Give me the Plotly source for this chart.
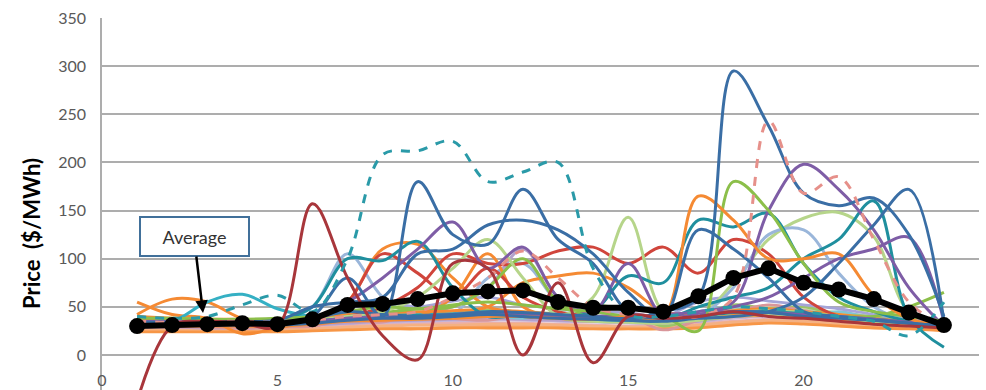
import plotly.graph_objects as go

# Hourly price traces ($/MWh) for hours 1-24
HOURS = list(range(1, 25))

average = [30, 31, 32, 33, 32, 37, 52, 53, 58, 64, 66, 67, 55, 49, 49, 45, 61, 80, 90, 75, 68, 58, 44, 31]

# background traces (the dense band near the bottom)
bg_a = [28, 28, 27, 27, 28, 30, 32, 33, 34, 35, 36, 36, 35, 34, 33, 32, 34, 38, 40, 38, 36, 33, 30, 28]
bg_b = [30, 30, 29, 29, 30, 32, 35, 36, 37, 38, 40, 40, 38, 37, 36, 35, 37, 42, 45, 42, 40, 36, 33, 30]
bg_c = [25, 25, 25, 24, 25, 26, 27, 28, 28, 29, 30, 30, 29, 28, 28, 28, 30, 33, 35, 34, 32, 30, 28, 26]
bg_d = [33, 33, 32, 32, 33, 35, 38, 40, 42, 42, 44, 43, 41, 40, 38, 37, 40, 45, 48, 45, 42, 38, 34, 31]
bg_e = [27, 27, 26, 26, 27, 28, 30, 31, 32, 33, 33, 33, 32, 31, 30, 30, 32, 35, 37, 36, 34, 32, 29, 27]
bg_f = [35, 34, 34, 34, 34, 37, 40, 42, 43, 44, 45, 45, 43, 41, 40, 38, 42, 48, 50, 47, 44, 40, 36, 32]
bg_g = [26, 26, 26, 25, 26, 27, 29, 30, 31, 31, 32, 32, 31, 30, 29, 29, 31, 34, 36, 35, 33, 31, 28, 26]
bg_h = [31, 31, 30, 30, 31, 33, 36, 38, 39, 40, 41, 41, 39, 38, 37, 36, 38, 43, 46, 44, 41, 37, 33, 30]
bg_i = [29, 29, 28, 28, 29, 31, 33, 35, 36, 37, 38, 37, 36, 35, 34, 33, 35, 40, 42, 40, 38, 35, 31, 29]
bg_j = [24, 24, 24, 24, 24, 25, 26, 27, 27, 28, 28, 28, 28, 27, 27, 27, 28, 31, 33, 32, 30, 28, 27, 25]
bg_k = [32, 32, 31, 31, 32, 34, 44, 40, 37, 45, 42, 38, 44, 40, 36, 34, 45, 50, 44, 40, 45, 38, 34, 31]
bg_l = [34, 33, 33, 33, 33, 36, 39, 46, 40, 38, 47, 44, 40, 52, 45, 30, 40, 52, 48, 50, 42, 40, 35, 32]
bg_m = [29, 29, 29, 28, 29, 30, 37, 34, 44, 38, 36, 42, 38, 35, 40, 26, 36, 44, 52, 46, 40, 36, 32, 29]
bg_n = [36, 35, 35, 35, 36, 38, 48, 55, 50, 56, 60, 52, 48, 45, 44, 40, 55, 60, 56, 52, 48, 42, 37, 33]

# individual traces with distinct peaks
dark_red = [-48, 30, 35, 33, 30, 157, 80, 20, -5, 95, 90, 0, 75, -8, 40, 38, 40, 45, 40, 38, 35, 32, 30, 28]
teal_dash = [40, 38, 40, 52, 62, 45, 100, 208, 212, 222, 180, 190, 200, 90, 42, 40, 45, 50, 48, 45, 40, 35, 20, 55]
blue_spike = [32, 33, 33, 34, 33, 38, 45, 42, 40, 42, 45, 44, 42, 40, 38, 45, 60, 295, 238, 168, 155, 163, 125, 40]
blue_late = [31, 31, 31, 31, 31, 33, 36, 38, 38, 40, 42, 40, 38, 37, 36, 35, 38, 40, 45, 60, 95, 135, 172, 35]
blue_c = [33, 33, 33, 34, 34, 40, 80, 40, 180, 125, 115, 172, 120, 95, 45, 38, 40, 45, 44, 40, 38, 36, 33, 30]
blue_d = [34, 34, 34, 35, 36, 50, 55, 60, 105, 110, 135, 140, 130, 105, 65, 40, 130, 110, 80, 45, 40, 36, 33, 30]
purple_e = [35, 35, 35, 35, 35, 38, 55, 80, 110, 138, 90, 112, 60, 45, 95, 40, 42, 45, 44, 42, 40, 37, 34, 31]
purple_f = [33, 33, 33, 33, 33, 35, 38, 40, 40, 42, 44, 43, 41, 40, 40, 42, 45, 55, 150, 198, 172, 130, 70, 30]
purple_g = [32, 32, 32, 32, 32, 34, 37, 39, 40, 41, 42, 42, 40, 39, 38, 38, 42, 50, 60, 80, 100, 110, 122, 35]
salmon_dash = [35, 34, 35, 35, 34, 36, 40, 42, 45, 60, 80, 108, 80, 50, 42, 40, 40, 60, 243, 168, 185, 120, 55, 30]
green_i = [38, 38, 37, 37, 38, 40, 45, 50, 48, 52, 55, 52, 48, 45, 40, 40, 25, 180, 150, 95, 55, 45, 40, 35]
green_b = [34, 34, 34, 34, 34, 36, 40, 44, 48, 50, 70, 100, 55, 40, 38, 36, 40, 44, 45, 42, 40, 40, 50, 65]
light_green_a = [32, 33, 33, 34, 35, 36, 40, 45, 60, 90, 120, 80, 40, 35, 34, 33, 36, 40, 42, 40, 38, 35, 32, 30]
light_green_j = [33, 33, 33, 33, 33, 35, 38, 40, 40, 42, 44, 42, 40, 60, 143, 45, 40, 44, 46, 44, 40, 36, 33, 30]
light_green_k = [32, 32, 32, 32, 32, 34, 37, 39, 40, 41, 42, 42, 40, 39, 38, 38, 40, 75, 120, 142, 148, 123, 45, 35]
orange_l = [30, 30, 30, 30, 30, 32, 35, 36, 37, 38, 40, 40, 38, 37, 40, 40, 165, 140, 100, 100, 105, 62, 38, 30]
orange_a = [40, 38, 36, 35, 35, 35, 55, 110, 115, 80, 50, 45, 42, 40, 38, 36, 40, 44, 45, 42, 40, 37, 33, 30]
orange_b = [36, 36, 36, 36, 36, 37, 40, 42, 40, 60, 105, 50, 40, 38, 37, 36, 38, 42, 44, 42, 40, 36, 33, 30]
orange_c = [37, 37, 37, 37, 37, 38, 42, 44, 45, 46, 50, 75, 82, 85, 70, 45, 42, 46, 48, 45, 42, 38, 34, 31]
orange_e1 = [42, 58, 55, 38, 35, 36, 38, 40, 40, 41, 42, 41, 40, 38, 37, 36, 38, 42, 43, 41, 38, 35, 32, 29]
orange_e2 = [55, 42, 38, 22, 28, 35, 37, 38, 38, 40, 40, 40, 38, 37, 36, 35, 37, 40, 41, 39, 37, 34, 31, 28]
red_a = [35, 35, 35, 35, 35, 36, 40, 50, 70, 105, 95, 95, 108, 112, 95, 112, 85, 120, 105, 60, 40, 35, 32, 30]
red_b = [34, 34, 34, 34, 34, 35, 55, 105, 85, 60, 90, 60, 45, 40, 38, 36, 40, 45, 44, 42, 40, 36, 33, 30]
teal_t1 = [33, 33, 33, 33, 33, 35, 38, 40, 41, 42, 43, 42, 40, 45, 82, 75, 140, 133, 147, 95, 60, 45, 35, 30]
teal_t2 = [32, 32, 32, 32, 32, 34, 36, 38, 38, 40, 41, 40, 38, 37, 36, 36, 50, 60, 70, 100, 120, 160, 40, 8]
teal_a = [34, 34, 34, 35, 36, 50, 100, 98, 118, 70, 40, 42, 40, 38, 37, 36, 40, 44, 45, 43, 40, 37, 34, 31]
aqua = [35, 35, 55, 63, 48, 40, 40, 42, 42, 44, 45, 44, 42, 40, 38, 37, 40, 44, 45, 43, 40, 37, 34, 31]
light_blue_early = [33, 33, 34, 35, 36, 50, 105, 60, 40, 42, 80, 95, 55, 40, 38, 36, 40, 44, 45, 42, 40, 36, 33, 30]
light_blue_late = [32, 32, 32, 32, 32, 34, 36, 38, 38, 40, 41, 40, 38, 37, 36, 36, 40, 70, 125, 130, 85, 50, 35, 30]
lavender = [34, 34, 34, 34, 34, 36, 40, 42, 44, 50, 70, 110, 60, 45, 40, 38, 42, 46, 47, 44, 41, 37, 33, 30]

COLORS = {
    "steel": "#3A6EA5", "darkred": "#A8363B", "red": "#D0453C", "green": "#8CBF4A",
    "lgreen": "#B6D58A", "purple": "#7E5DA6", "lavender": "#B3A2CC", "teal": "#1F8F9E",
    "aqua": "#35B0C4", "orange": "#F58A33", "lorange": "#F9B07A", "lblue": "#9AB6DA",
    "salmon": "#E6908A", "pink": "#DDA0A8",
}

background = [
    (bg_a, "#C6B6D9"), (bg_b, "#A9CFE0"), (bg_c, "#F6A86E"), (bg_d, "#B9CCE5"),
    (bg_e, "#E9B0AE"), (bg_f, "#C4DAA2"), (bg_g, "#F4B183"), (bg_h, "#8FB4D9"),
    (bg_i, "#B4A0CC"), (bg_j, "#F79646"), (bg_k, "#7FC6D4"), (bg_l, "#9DC46A"),
    (bg_m, "#D9969A"), (bg_n, "#A5A5D8"),
]

featured = [
    (light_blue_early, COLORS["lblue"], "solid"),
    (lavender, COLORS["lavender"], "solid"),
    (orange_e1, COLORS["orange"], "solid"),
    (orange_e2, COLORS["orange"], "solid"),
    (aqua, COLORS["aqua"], "solid"),
    (orange_a, COLORS["orange"], "solid"),
    (orange_b, COLORS["orange"], "solid"),
    (orange_c, COLORS["orange"], "solid"),
    (red_b, COLORS["red"], "solid"),
    (red_a, COLORS["red"], "solid"),
    (green_b, COLORS["green"], "solid"),
    (light_green_a, COLORS["lgreen"], "solid"),
    (light_green_j, COLORS["lgreen"], "solid"),
    (light_green_k, COLORS["lgreen"], "solid"),
    (light_blue_late, COLORS["lblue"], "solid"),
    (teal_a, COLORS["teal"], "solid"),
    (teal_t1, COLORS["teal"], "solid"),
    (teal_t2, COLORS["teal"], "solid"),
    (purple_e, COLORS["purple"], "solid"),
    (purple_g, COLORS["purple"], "solid"),
    (purple_f, COLORS["purple"], "solid"),
    (green_i, COLORS["green"], "solid"),
    (orange_l, COLORS["orange"], "solid"),
    (blue_d, COLORS["steel"], "solid"),
    (blue_c, COLORS["steel"], "solid"),
    (blue_late, COLORS["steel"], "solid"),
    (blue_spike, COLORS["steel"], "solid"),
    (salmon_dash, COLORS["salmon"], "dash"),
    (dark_red, COLORS["darkred"], "solid"),
    (teal_dash, "#2A9AA8", "dash"),
]

fig = go.Figure()

for values, color in background:
    fig.add_trace(go.Scatter(x=HOURS, y=values, mode="lines",
                             line=dict(color=color, width=2.8, shape="spline", smoothing=1.0),
                             hoverinfo="skip", showlegend=False))

for values, color, dash in featured:
    fig.add_trace(go.Scatter(x=HOURS, y=values, mode="lines",
                             line=dict(color=color, width=3, dash=dash, shape="spline", smoothing=1.0),
                             hoverinfo="skip", showlegend=False))

fig.add_trace(go.Scatter(x=HOURS, y=average, mode="lines+markers", name="Average",
                         line=dict(color="black", width=6),
                         marker=dict(color="black", size=16),
                         showlegend=False))

FONT = "Lato, Calibri, Arial, sans-serif"
Y_MIN, Y_MAX = -36.4, 350
zero_pos = (0 - Y_MIN) / (Y_MAX - Y_MIN)

fig.update_layout(
    width=986, height=390,
    margin=dict(l=102, r=7, t=18, b=0),
    paper_bgcolor="white", plot_bgcolor="white",
    font=dict(family=FONT, size=16, color="#595959"),
    showlegend=False,
    xaxis=dict(range=[0, 25], tickvals=[0, 5, 10, 15, 20, 25], showgrid=False, zeroline=False,
               showline=False, anchor="free", position=zero_pos,
               ticks="outside", ticklen=11, tickcolor="rgba(0,0,0,0)",
               tickfont=dict(family=FONT, size=16, color="#595959")),
    yaxis=dict(range=[Y_MIN, Y_MAX], tickvals=[0, 50, 100, 150, 200, 250, 300, 350],
               showgrid=True, gridcolor="#ADADAD", gridwidth=1.5, zeroline=False,
               showline=True, linecolor="#ADADAD", linewidth=1.5,
               ticks="", ticklabelstandoff=11,
               tickfont=dict(family=FONT, size=16, color="#595959")),
    annotations=[
        dict(text="<b>Price  ($/MWh)</b>", xref="paper", yref="paper",
             x=(32 - 102) / 877, y=(390 - 234) / 372, textangle=-90, showarrow=False,
             font=dict(family=FONT, size=22, color="black"), xanchor="center", yanchor="middle"),
        dict(text="Average", x=2.88, y=43.6, xref="x", yref="y",
             ax=-9, ay=-76, showarrow=True, arrowhead=2, arrowsize=1, arrowwidth=2.5,
             arrowcolor="black", bgcolor="white", bordercolor="#41709A", borderwidth=2,
             borderpad=1, width=105, height=35,
             font=dict(family=FONT, size=18, color="#333333")),
    ],
)

fig.write_html("out.html")
